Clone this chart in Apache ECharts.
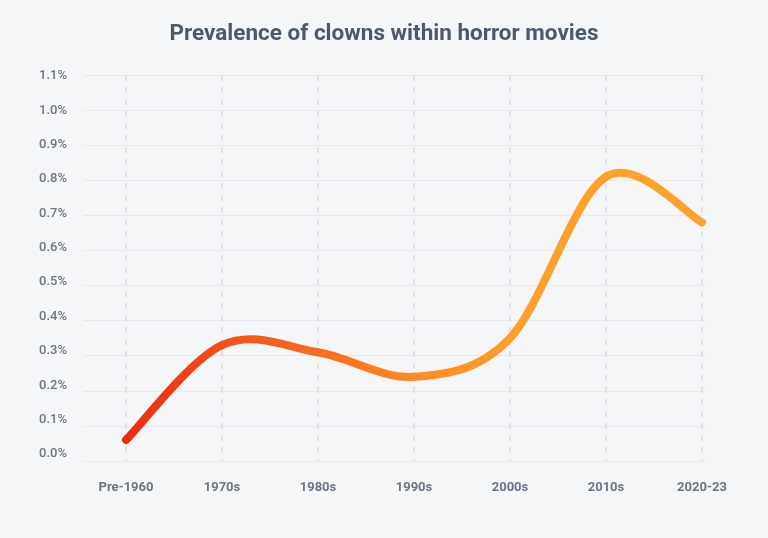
<!DOCTYPE html>
<html>
<head>
<meta charset="utf-8">
<script src="https://cdn.jsdelivr.net/npm/echarts@6/dist/echarts.min.js"></script>
<style>
html,body{margin:0;padding:0;background:#f5f6f8;}
#c{width:768px;height:538px;}
</style>
</head>
<body>
<div id="c"></div>
<script>
const title = 'Prevalence of clowns within horror movies';
const categories = ['Pre-1960', '1970s', '1980s', '1990s', '2000s', '2010s', '2020-23'];
const values = [0.06, 0.33, 0.31, 0.24, 0.35, 0.81, 0.68];
const yMin = 0, yMax = 1.1, yStep = 0.1;

const chart = echarts.init(document.getElementById('c'), null, {renderer: 'canvas'});
const font = 'Roboto, "Noto Sans", sans-serif';

function renderCurve(params, api) {
  if (params.dataIndex !== 0) return null;
  const p = values.map((v, i) => api.coord([i, v]));
  const n = p.length;
  const first = p[0], last = p[n - 1];
  const stroke = new echarts.graphic.LinearGradient(first[0], 0, last[0], 0, [
    {offset: 0, color: '#ee2a12'},
    {offset: 0.2, color: '#f3561c'},
    {offset: 0.5, color: '#fc8a25'},
    {offset: 0.68, color: '#ffa02b'},
    {offset: 1, color: '#ffa22c'}
  ], true);
  const children = [];
  for (let i = 0; i < n - 1; i++) {
    const p0 = p[Math.max(i - 1, 0)], p1 = p[i], p2 = p[i + 1], p3 = p[Math.min(i + 2, n - 1)];
    children.push({
      type: 'bezierCurve',
      shape: {
        x1: p1[0], y1: p1[1], x2: p2[0], y2: p2[1],
        cpx1: p1[0] + (p2[0] - p0[0]) / 6, cpy1: p1[1] + (p2[1] - p0[1]) / 6,
        cpx2: p2[0] - (p3[0] - p1[0]) / 6, cpy2: p2[1] - (p3[1] - p1[1]) / 6
      },
      style: {fill: null, stroke: stroke, lineWidth: 8, lineCap: 'round', lineJoin: 'round'}
    });
  }
  return {type: 'group', children: children};
}

chart.setOption({
  backgroundColor: '#f5f6f8',
  animation: false,
  title: {
    text: title, left: 'center', top: 18,
    textStyle: {fontFamily: font, fontSize: 22.5, fontWeight: 'bold', color: '#4b5a6a'}
  },
  grid: [
    {left: 84, right: 63, top: 76, bottom: 84},
    {left: 84, right: 63, top: 75, bottom: 77},
    {left: 126, right: 66, top: 75, bottom: 77}
  ],
  xAxis: [
    {gridIndex: 0, type: 'value', min: 0, max: 1, show: false},
    {gridIndex: 1, type: 'value', min: 0, max: 1, show: false},
    {gridIndex: 2, type: 'category', data: categories, boundaryGap: false,
     axisLine: {show: false}, axisTick: {show: false},
     axisLabel: {margin: 20, fontFamily: font, fontSize: 13, fontWeight: 'bold', color: '#6b7684'},
     splitLine: {show: true, lineStyle: {color: '#d9dce1', width: 1.5, type: [6, 6]}}}
  ],
  yAxis: [
    {gridIndex: 0, type: 'value', min: yMin, max: yMax, interval: yStep,
     axisLine: {show: false}, axisTick: {show: false}, splitLine: {show: false},
     axisLabel: {margin: 17, fontFamily: font, fontSize: 13, fontWeight: 500, color: '#6b7684',
                 formatter: v => v.toFixed(1) + '%'}},
    {gridIndex: 1, type: 'value', min: yMin, max: yMax, interval: yStep,
     axisLine: {show: false}, axisTick: {show: false}, axisLabel: {show: false},
     splitLine: {lineStyle: {color: '#e7e9ec', width: 1}}},
    {gridIndex: 2, type: 'value', min: yMin, max: yMax, interval: yStep, show: false}
  ],
  series: [{
    type: 'custom', xAxisIndex: 2, yAxisIndex: 2, coordinateSystem: 'cartesian2d',
    data: values.map((v, i) => [i, v]),
    renderItem: renderCurve, silent: true
  }]
});
</script>
</body>
</html>
